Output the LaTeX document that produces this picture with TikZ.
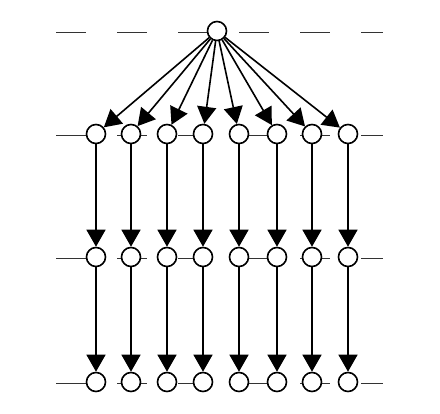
\documentclass[tikz,border=0pt]{standalone}
\usetikzlibrary{arrows.meta}
\begin{document}
\begin{tikzpicture}[x=1pt, y=-1pt,
        every node/.style={draw, circle, line width=1.6pt, fill=white, inner sep=0pt, minimum size=19pt},
        link/.style={-{Triangle[width=19pt, length=17pt]}, line width=1.6pt},
        level/.style={dash pattern=on 30pt off 31pt, line width=1pt, black!80}
    ]
        \useasboundingbox (0,0) rectangle (440,414);
        % level lines
        \foreach \y in {33,136,259,384}
            \draw[level] (56,\y) -- (383,\y);
        \node (root) at (217,31) {};
        \foreach \i/\x in {1/96,2/131,3/167,4/203,5/239,6/277,7/312,8/348} {
            \node (a\i) at (\x,134) {};
            \node (b\i) at (\x,257) {};
            \node (c\i) at (\x,382) {};
        }
        \foreach \i in {1,...,8} {
            \draw[link] (root) -- (a\i);
            \draw[link] (a\i) -- (b\i);
            \draw[link] (b\i) -- (c\i);
        }
    \end{tikzpicture}
\end{document}
